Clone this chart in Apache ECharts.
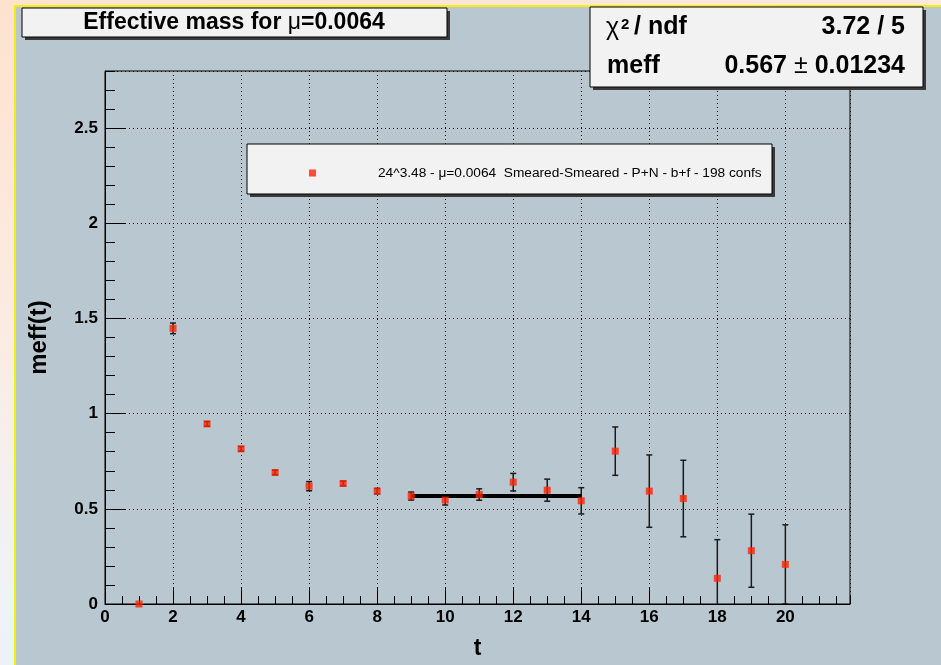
<!DOCTYPE html>
<html>
<head>
<meta charset="utf-8">
<script src="https://cdn.jsdelivr.net/npm/echarts@6/dist/echarts.min.js"></script>
<style>
  html, body { margin: 0; padding: 0; }
  body {
    width: 941px; height: 665px; position: relative; overflow: hidden;
    background: linear-gradient(165deg, #fde2cf 0%, #fcebe2 35%, #eef3f8 65%, #e6eff8 100%);
  }
  #pad {
    position: absolute; left: 14px; top: 5px; right: 0; bottom: 0;
    background: #b9c8d0;
    border-left: 2px solid #f4ee10; border-top: 2px solid #f4ee10;
  }
  #main { position: absolute; left: 0; top: 0; width: 941px; height: 665px; }
</style>
</head>
<body>
<div id="pad"></div>
<div id="main"></div>
<script>
// time slices and effective mass
const tValues = [1, 2, 3, 4, 5, 6, 7, 8, 9, 10, 11, 12, 13, 14, 15, 16, 17, 18, 19, 20];
const meffValues = [0.0, 1.448, 0.946, 0.815, 0.691, 0.619, 0.633, 0.593, 0.567, 0.546,
                    0.575, 0.640, 0.598, 0.542, 0.803, 0.593, 0.554, 0.135, 0.280, 0.208];
const meffErrors = [0.0, 0.028, 0.012, 0.012, 0.012, 0.024, 0.012, 0.014, 0.021, 0.026,
                    0.030, 0.046, 0.058, 0.069, 0.127, 0.190, 0.201, 0.203, 0.192, 0.208];

// constant fit
const fitRange = [9, 14];
const fitMeff = 0.567;
const fitErr = 0.01234;
const chi2 = 3.72;
const ndf = 5;

const seriesName = '24^3.48 - \u03bc=0.0064  Smeared-Smeared - P+N - b+f - 198 confs';
const titleText = 'Effective mass for ';
const muValue = '0.0064';

const font = 'Liberation Sans, Arial, sans-serif';

const pointData = tValues.map((t, i) => [t, meffValues[i]]);
const errData = tValues.map((t, i) => [t, meffValues[i], meffErrors[i]]);
const fitData = fitRange.map(t => [t, fitMeff]);

function renderErrorBar(params, api) {
    const t = api.value(0), m = api.value(1), e = api.value(2);
    if (!e) return null;
    const hi = api.coord([t, m + e]);
    const lo = api.coord([t, m - e]);
    const cap = 3;
    const style = { stroke: '#1a1a1a', lineWidth: 1.5 };
    return {
        type: 'group',
        children: [
            { type: 'line', shape: { x1: hi[0], y1: hi[1], x2: lo[0], y2: lo[1] }, style: style },
            { type: 'line', shape: { x1: hi[0] - cap, y1: hi[1], x2: hi[0] + cap, y2: hi[1] }, style: style },
            { type: 'line', shape: { x1: lo[0] - cap, y1: lo[1], x2: lo[0] + cap, y2: lo[1] }, style: style }
        ]
    };
}

function box(x, y, w, h) {
    return [
        { type: 'rect', z: 3, shape: { x: x + 3, y: y + 3, width: w, height: h }, style: { fill: '#3a3a3a' } },
        { type: 'rect', z: 3, shape: { x: x, y: y, width: w, height: h }, style: { fill: '#f2f2f2', stroke: '#000', lineWidth: 1 } }
    ];
}

function statText(x, y, text, size, weight, align) {
    return {
        type: 'text', z: 4, x: x, y: y,
        style: { text: text, font: weight + ' ' + size + 'px ' + font, fill: '#000', align: align || 'left', verticalAlign: 'middle' }
    };
}

const labelStyle = { color: '#000', fontFamily: font, fontWeight: 'bold', fontSize: 17 };
const dotted = { color: '#000', width: 1, type: [1, 3] };

const option = {
    animation: false,
    textStyle: { fontFamily: font },
    grid: {
        left: 105, top: 71, right: 91, bottom: 61,
        show: true, borderColor: '#000', borderWidth: 1, backgroundColor: 'transparent',
        outerBoundsMode: 'none'
    },
    legend: {
        left: 304, top: 161, z: 6,
        data: [seriesName],
        itemWidth: 7, itemHeight: 7,
        icon: 'rect',
        textStyle: { fontSize: 13.7, color: '#000', fontFamily: font, padding: [0, 0, 0, 57] }
    },
    xAxis: [
        {
            type: 'value', min: 0, max: 21.9, interval: 2, position: 'bottom',
            name: 't', nameLocation: 'middle', nameGap: 33,
            nameTextStyle: { color: '#000', fontFamily: font, fontWeight: 'bold', fontSize: 23 },
            axisLine: { lineStyle: { color: '#000', width: 1 } },
            axisTick: { inside: true, length: 16, lineStyle: { color: '#000' } },
            axisLabel: Object.assign({ margin: 5, showMaxLabel: false }, labelStyle),
            splitLine: { show: true, lineStyle: dotted }
        },
        {
            type: 'value', min: 0, max: 21.9, interval: 0.5, position: 'bottom',
            axisLine: { show: false },
            axisTick: { inside: true, length: 8, lineStyle: { color: '#000' } },
            axisLabel: { show: false },
            splitLine: { show: false }
        }
    ],
    yAxis: [
        {
            type: 'value', min: 0, max: 2.8, interval: 0.5, position: 'left',
            name: 'meff(t)', nameLocation: 'middle', nameGap: 54,
            nameTextStyle: { color: '#000', fontFamily: font, fontWeight: 'bold', fontSize: 24 },
            axisLine: { lineStyle: { color: '#000', width: 1 } },
            axisTick: { inside: true, length: 20, lineStyle: { color: '#000' } },
            axisLabel: Object.assign({ margin: 7, showMaxLabel: false }, labelStyle),
            splitLine: { show: true, lineStyle: dotted }
        },
        {
            type: 'value', min: 0, max: 2.8, interval: 0.1, position: 'left',
            axisLine: { show: false },
            axisTick: { inside: true, length: 10, lineStyle: { color: '#000' } },
            axisLabel: { show: false },
            splitLine: { show: false }
        }
    ],
    series: [
        {
            type: 'custom', name: 'errors', renderItem: renderErrorBar,
            data: errData, encode: { x: 0, y: 1 }, clip: true, z: 2
        },
        {
            type: 'line', name: 'fit', data: fitData, symbol: 'none',
            lineStyle: { color: '#000', width: 4 }, z: 3
        },
        {
            type: 'scatter', name: seriesName, data: pointData,
            symbol: 'rect', symbolSize: 7,
            itemStyle: { color: '#ff2400' }, z: 4
        }
    ],
    graphic: [].concat(
        box(22, 8, 425, 29),
        box(590, 7, 333, 80),
        box(247, 144, 525, 50),
        [
            {
                type: 'text', z: 4, x: 234, y: 23,
                style: {
                    text: '{b|' + titleText + '}{m|\u03bc}{b|=' + muValue + '}',
                    align: 'center', verticalAlign: 'middle',
                    rich: {
                        b: { fontFamily: font, fontWeight: 'bold', fontSize: 23, fill: '#000' },
                        m: { fontFamily: font, fontWeight: 'normal', fontSize: 23, fill: '#000' }
                    }
                }
            },
            statText(606, 28, '\u03c7', 25, 'normal'),
            statText(621, 25, '2', 15, 'bold'),
            statText(634, 27, '/ ndf', 25, 'bold'),
            statText(905, 27, chi2.toFixed(2) + ' / ' + ndf, 25, 'bold', 'right'),
            statText(607, 66, 'meff', 25, 'bold'),
            {
                type: 'text', z: 4, x: 905, y: 66,
                style: {
                    text: '{b|' + fitMeff.toFixed(3) + '}{m| \u00b1 }{b|' + fitErr + '}',
                    align: 'right', verticalAlign: 'middle',
                    rich: {
                        b: { fontFamily: font, fontWeight: 'bold', fontSize: 25, fill: '#000' },
                        m: { fontFamily: font, fontWeight: 'normal', fontSize: 25, fill: '#000' }
                    }
                }
            }
        ]
    )
};

const chart = echarts.init(document.getElementById('main'), null, { renderer: 'canvas' });
chart.setOption(option);
</script>
</body>
</html>
